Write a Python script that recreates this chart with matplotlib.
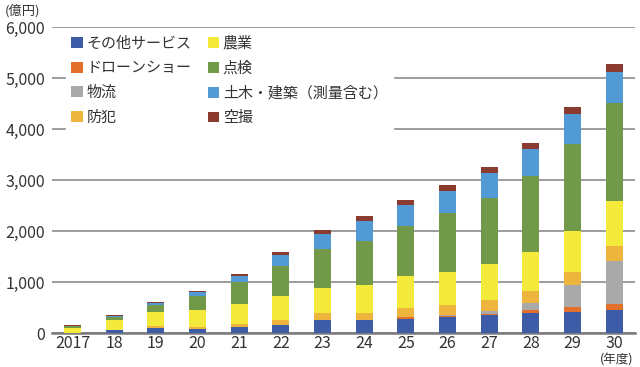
import numpy as np
import matplotlib
matplotlib.use('Agg')
import matplotlib.pyplot as plt

plt.rcParams['font.family'] = ['Noto Sans CJK JP', 'DejaVu Sans']

# fiscal years (x labels) and market size per segment (100M yen)
years = ['2017', '18', '19', '20', '21', '22', '23', '24', '25', '26', '27', '28', '29', '30']
series_names = ['その他サービス', 'ドローンショー', '物流', '防犯',
                '農業', '点検', '土木・建築（測量含む）', '空撮']
other = [5, 65, 105, 85, 120, 150, 265, 265, 280, 315, 345, 385, 420, 460]
droneshow = [0, 0, 0, 0, 0, 0, 0, 0, 25, 20, 35, 65, 90, 105]
logistics = [0, 0, 0, 0, 0, 0, 0, 0, 10, 15, 45, 130, 425, 845]
security = [0, 0, 25, 35, 65, 100, 120, 135, 180, 200, 215, 250, 260, 295]
agri = [100, 195, 280, 340, 390, 470, 490, 535, 615, 650, 705, 750, 815, 885]
inspection = [30, 50, 145, 265, 425, 595, 765, 870, 980, 1145, 1300, 1495, 1690, 1930]
civil = [10, 25, 30, 70, 110, 225, 300, 385, 425, 445, 500, 530, 600, 610]
aerial = [10, 20, 20, 35, 40, 45, 90, 100, 85, 110, 110, 125, 130, 150]

colors = ['#3d5ba6', '#e2702c', '#a9a9a9', '#eeb53e',
          '#f4ea3c', '#72984a', '#519ad6', '#8b3a2f']

series = [other, droneshow, logistics, security, agri, inspection, civil, aerial]

fig = plt.figure(figsize=(6.4, 3.67), dpi=100)
ax = fig.add_axes([0.081, 0.0926, 0.911, 0.8334])

x = np.arange(len(years))
bottom = np.zeros(len(years))
handles = []
for name, vals, c in zip(series_names, series, colors):
    b = ax.bar(x, vals, width=0.41, bottom=bottom, color=c, label=name, zorder=3)
    handles.append(b)
    bottom += np.array(vals)

ax.set_xlim(-0.5, 13.5)
ax.set_ylim(0, 6000)
ax.set_yticks(range(0, 6001, 1000))
ax.set_yticklabels([f'{v:,}' for v in range(0, 6001, 1000)])
ax.set_xticks(x)
ax.set_xticklabels(years)
ax.tick_params(axis='both', length=0, labelsize=11.5, colors='#333333')
ax.tick_params(axis='y', pad=5)
ax.tick_params(axis='x', pad=1.5)
ax.yaxis.grid(True, color='#8c8c8c', linewidth=1.2, zorder=0)
ax.set_axisbelow(True)
for s in ['top', 'right', 'left']:
    ax.spines[s].set_visible(False)
ax.spines['bottom'].set_color('#7a7a7a')
ax.spines['bottom'].set_linewidth(1.8)

leg = ax.legend(handles=handles, ncol=2, loc='upper left',
                bbox_to_anchor=(66 / 640, 1 - 31 / 367), bbox_transform=fig.transFigure,
                frameon=True, fancybox=False, framealpha=1, edgecolor='white',
                fontsize=10.8, handlelength=0.75, handleheight=0.75,
                handletextpad=0.25, columnspacing=1.1, labelspacing=0.7,
                borderpad=0.35, borderaxespad=0)
for t in leg.get_texts():
    t.set_color('#333333')

fig.text(5 / 640, 1 - 11 / 367, '(億円)', fontsize=9.5, color='#333333',
         ha='left', va='center')
fig.text(617 / 640, 1 - 360 / 367, '(年度)', fontsize=9, color='#333333',
         ha='center', va='center')

fig.savefig('out.png', dpi=100)
